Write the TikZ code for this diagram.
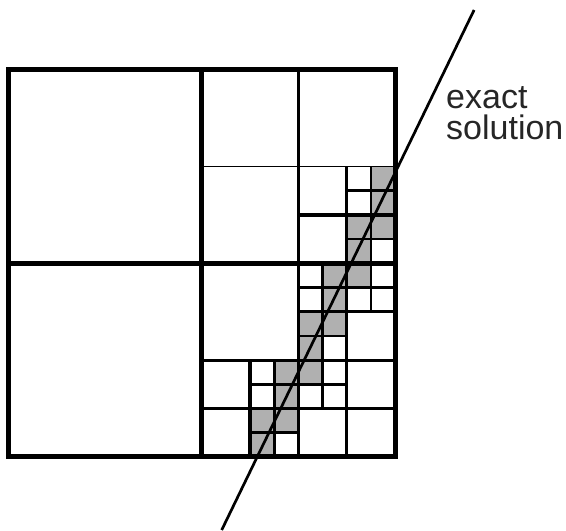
\documentclass[tikz,border=0pt]{standalone}
\usepackage{fontspec}
\setmainfont{Liberation Sans}
\begin{document}
\begin{tikzpicture}[x=24.2pt,y=24.2pt,
  heavy/.style={line width=5pt},
  mid/.style={line width=3.3pt},
  fine/.style={line width=2.6pt},
  cell/.style={fill=black!31}]
\useasboundingbox (-0.331,-3.058) rectangle (23.058,18.884);
% cells cut by the solution
\foreach \i/\j in {15/11,15/10,14/9,15/9,14/8,13/7,14/7,13/6,12/5,13/5,12/4,12/3,11/3,11/2,10/1,11/1,10/0}
  \fill[cell] (\i,\j) rectangle ++(1,1);
% finest level
\draw[fine] (15,6)--(15,12) (14,11)--(16,11) (14,9)--(16,9) (12,7)--(16,7)
  (13,2)--(13,8) (12,5)--(14,5) (11,0)--(11,4) (10,1)--(12,1) (10,3)--(14,3);
% 2x2 blocks
\draw[mid] (14,0)--(14,12) (12,10)--(16,10) (12,6)--(16,6)
  (10,0)--(10,4) (8,2)--(16,2);
% quadrants
\draw[mid] (12,0)--(12,16) (8,4)--(16,4);
\draw[line width=1.7pt] (8,12)--(16,12);
\draw[heavy] (0,0) rectangle (16,16) (8,0)--(8,16) (0,8)--(16,8);
% exact solution
\coordinate (top) at (19.26,18.47);
\coordinate (bot) at (8.83,-3.02);
\draw[line width=2.7pt] (bot)--(top);
\node[anchor=north west,inner sep=0pt,align=left,font=\fontsize{34}{31}\selectfont,text=black!85]
  (lbl) at (18.1,15.33) {exact\\solution};
\end{tikzpicture}
\end{document}
